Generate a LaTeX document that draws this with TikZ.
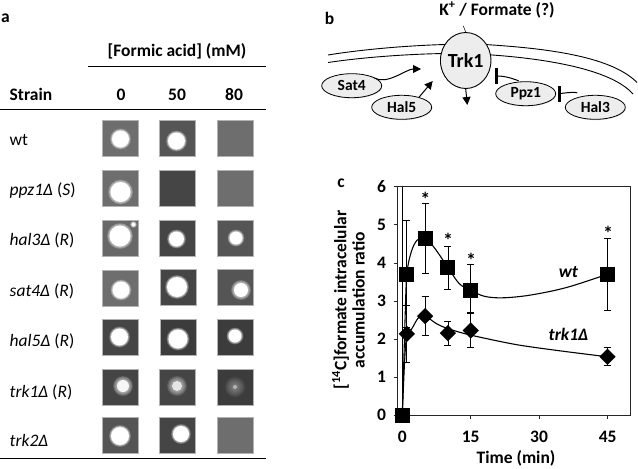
\documentclass[tikz,border=0pt]{standalone}
\usepackage{fontspec}
\setmainfont{Carlito}
\usetikzlibrary{arrows.meta,shadows,shapes.geometric}
\definecolor{gA}{HTML}{6E6E6E}
\definecolor{gB}{HTML}{555555}
\definecolor{gC}{HTML}{454545}
\definecolor{gD}{HTML}{3C3C3C}
\definecolor{gE}{HTML}{686868}
\tikzset{
  spot/.style={minimum size=36pt,inner sep=0pt,draw=black!30,line width=.5pt,anchor=center},
  lab/.style={font=\fontsize{17.5}{17.5}\selectfont,inner sep=0pt},
  blab/.style={font=\fontsize{17.5}{17.5}\selectfont\bfseries,inner sep=0pt},
  rowlab/.style={font=\fontsize{17.5}{17.5}\selectfont,inner sep=0pt,anchor=west},
  prot/.style={ellipse,draw=black,line width=.8pt,fill=black!7,minimum width=60pt,minimum height=24pt,inner sep=0pt,font=\fontsize{15.5}{15.5}\selectfont\bfseries,drop shadow={shadow xshift=.6pt,shadow yshift=-.8pt,opacity=.3}},
  memb/.style={line width=.9pt,black},
  act/.style={line width=1pt,-{Triangle[length=8pt,width=8pt]}},
  inh/.style={line width=1pt,-{Rectangle[length=2.6pt,width=16pt]}},
  wtm/.style={fill=black,minimum size=15pt,inner sep=0pt},
  trm/.style={fill=black,minimum size=11.5pt,inner sep=0pt,rotate=45},
  ebar/.style={line width=.8pt,{Bar[width=7pt,line width=.8pt]}-{Bar[width=7pt,line width=.8pt]}},
  curve/.style={line width=1.1pt},
  star/.style={font=\fontsize{20}{20}\selectfont\bfseries,inner sep=0pt},
  frm/.style={line width=.7pt,black!85},
}
% \blob{x}{y}{inner r}{soft width}{soft opacity}: solid core with a soft rim
\newcommand{\blob}[5]{%
  \foreach \k in {1,...,5}{\fill[white,opacity=#5*.16] (#1,#2) circle ({#3pt+#4pt*(6-\k)/5});}
  \fill[white,opacity=#5] (#1,#2) circle (#3pt);
}
\begin{document}
\begin{tikzpicture}[x=1pt,y=-1pt]
\useasboundingbox (0,0) rectangle (638,469);
% ---- panel a
\node[blab] (la) at (5.5,18) {a};
\node[blab] (hd) at (177,51) {[Formic acid] (mM)};
\coordinate (r1a) at (88,66.5); \coordinate (r1b) at (266,66.5);
\draw[line width=1.4pt] (r1a) -- (r1b);
\node[blab,anchor=west] (st) at (9.5,94.5) {Strain};
\node[blab] (c0) at (121,94.5) {0};
\node[blab] (c50) at (177,94.5) {50};
\node[blab] (c80) at (234,94.5) {80};
\coordinate (r2a) at (0,109.5); \coordinate (r2b) at (266,109.5);
\draw[line width=1.4pt] (r2a) -- (r2b);
\coordinate (r3a) at (0,458.5); \coordinate (r3b) at (266,458.5);
\draw[line width=1.4pt] (r3a) -- (r3b);
\node[rowlab] (s1) at (9.5,140) {wt};
\node[rowlab] (s2) at (9.5,191) {\textit{ppz1Δ} (\textit{S})};
\node[rowlab] (s3) at (9.5,240) {\textit{hal3Δ} (\textit{R})};
\node[rowlab] (s4) at (9.5,291) {\textit{sat4Δ} (\textit{R})};
\node[rowlab] (s5) at (9.5,341) {\textit{hal5Δ} (\textit{R})};
\node[rowlab] (s6) at (9.5,392) {\textit{trk1Δ} (\textit{R})};
\node[rowlab] (s7) at (9.5,440) {\textit{trk2Δ}};
% spots
\node[spot,fill=gA] (a11) at (120,138) {};
\node[spot,fill=gB] (a12) at (177,138) {};
\node[spot,fill=gA] (a13) at (235,138) {};
\node[spot,fill=gA] (a21) at (120,188.5) {};
\node[spot,fill=gC] (a22) at (177,188.5) {};
\node[spot,fill=gA] (a23) at (235,188.5) {};
\node[spot,fill=gE] (a31) at (120,238) {};
\node[spot,fill=gC] (a32) at (177,238) {};
\node[spot,fill=gB] (a33) at (235,238) {};
\node[spot,fill=gA] (a41) at (120,288.5) {};
\node[spot,fill=gC] (a42) at (178,287.5) {};
\node[spot,fill=gB] (a43) at (235.5,287.5) {};
\node[spot,fill=gC] (a51) at (120,337.5) {};
\node[spot,fill=gD] (a52) at (178,337.5) {};
\node[spot,fill=gD] (a53) at (235,337) {};
\node[spot,fill=gC] (a61) at (120.5,387) {};
\node[spot,fill=gC] (a62) at (177,387) {};
\node[spot,fill=gD] (a63) at (235,387) {};
\node[spot,fill=gB] (a71) at (120,435) {};
\node[spot,fill=gC] (a72) at (177,435) {};
\node[spot,fill=gA] (a73) at (235,435) {};
% blobs
\blob{120.5}{139}{8.5}{2}{1}
\blob{176.5}{141}{8.5}{2}{1}
\blob{120.5}{192}{10}{2.5}{1}
\blob{120}{236}{10.5}{2.5}{1}
\blob{133.5}{224.5}{2}{1.5}{1}
\blob{176.5}{239}{7.5}{2}{1}
\blob{236}{238}{6.5}{2}{1}
\blob{121}{290}{8.5}{2}{1}
\blob{177}{287}{10}{2}{1}
\blob{241}{290}{7}{3}{1}
\blob{119.5}{337}{8.5}{2}{1}
\blob{178}{339}{9.5}{2}{1}
\blob{235}{336}{6.5}{2}{1}
\blob{123}{386}{6}{4}{.9}
\blob{177}{386}{5}{5}{.75}
\blob{235}{387}{2}{8}{.45}
\blob{120}{436}{9}{2}{1}
\blob{181}{434}{8}{2}{1}
% ---- panel b
\node[blab] (lb) at (329.5,18) {b};
\node[blab] (kf) at (497,10) {K\textsuperscript{+} / Formate (?)};
\draw[memb] (328,55) .. controls (365,49) and (410,45.5) .. (445,44.5);
\draw[memb] (328,62.5) .. controls (365,57) and (410,54) .. (445,53.5);
\draw[memb] (485,44.5) .. controls (540,48) and (610,55) .. (637,82.5);
\draw[memb] (485,54.5) .. controls (540,58) and (610,68) .. (633,94);
\coordinate (tt) at (463.3,26);
\node[ellipse,draw=black,line width=.9pt,fill=black!7,minimum width=47pt,minimum height=56pt,inner sep=0pt,font=\fontsize{20}{20}\selectfont\bfseries] (trk) at (465.7,60.5) {Trk1};
\draw[line width=.5pt] (tt) -- (trk.north);
\coordinate (dn) at (467.3,105);
\draw[act] (trk.south) -- (dn);
\node[prot] (sat) at (351.7,85.7) {Sat4};
\node[prot] (hal5) at (401.7,107.3) {Hal5};
\node[prot] (ppz) at (525.7,93.7) {Ppz1};
\node[prot] (hal3) at (595.3,107.3) {Hal3};
\coordinate (satE) at (421,69);
\coordinate (halE) at (432.7,81);
\coordinate (ppzE) at (495,76);
\coordinate (hal3E) at (558,93.5);
\draw[act] (sat.north east) ++(1,1) to[out=-30,in=180,looseness=.8] (satE);
\draw[act] (hal5.north east) ++(-4,-1.5) -- (halE);
\draw[inh] (ppz.north) ++(-7,-.5) to[out=160,in=0] (ppzE);
\draw[inh] (hal3.north) ++(-18,-2) to[out=160,in=0,looseness=.6] (hal3E);
% ---- panel c
\node[blab] (lc) at (341,183) {c};
\draw[frm] (397.3,186.7) rectangle (630,415);
\foreach \v/\yy in {0/415,1/377,2/339,3/301,4/263,5/224.7,6/186.7}{
  \draw[frm] (394,\yy) -- (397.3,\yy);
  \node[blab] (yl\v) at (381.5,\yy) {\v};
}
\foreach \v/\xx in {0/402.3,15/470.7,30/539,45/607.7}{
  \draw[frm] (\xx,415) -- (\xx,419);
  \node[blab] (xl\v) at (\xx,436.5) {\v};
}
\node[blab] (xt) at (516,458) {Time (min)};
\node[blab,rotate=90] (yt1) at (340.5,300) {[\textsuperscript{14}C]formate intracelular};
\node[blab,rotate=90] (yt2) at (358.5,300) {accumulation ratio};
\begin{scope}[shift={(402.3,415)},x=4.56pt,y=38.05pt]
  \foreach \t/\lo/\hi in {1/2.3/5.13,5/3.72/5.58,10/3.3/4.45,15/2.65/3.98,45/2.75/4.65}{
    \draw[ebar] (\t,\lo) -- (\t,\hi);
  }
  \foreach \t/\lo/\hi in {1/1.38/2.88,5/2.08/3.13,10/1.83/2.48,15/1.77/2.7,45/1.3/1.78}{
    \draw[ebar] (\t,\lo) -- (\t,\hi);
  }
  \draw[line width=.8pt] (0,0) -- (0,6);
  \draw[curve] plot[smooth,tension=.55] coordinates {(0,0) (.6,2.5) (1,3.7) (2,4.3) (3.3,4.6) (5,4.65) (7,4.4) (10,3.88) (12.5,3.45) (15,3.28) (18,3.12) (22,3.08) (28,3.15) (36,3.35) (45,3.7)};
  \draw[curve] plot[smooth,tension=.5] coordinates {(0,0) (.5,1.4) (1,2.13) (2,2.25) (3.5,2.55) (5,2.6) (7.5,2.4) (10,2.27) (15,2.1) (25,1.85) (35,1.68) (45,1.53)};
  \node[wtm] (w0) at (0,0) {};
  \node[wtm] (w1) at (1,3.7) {};
  \node[wtm] (w2) at (5,4.65) {};
  \node[wtm] (w3) at (10,3.88) {};
  \node[wtm] (w4) at (15,3.28) {};
  \node[wtm] (w5) at (45,3.7) {};
  \node[trm] (t1) at (1,2.13) {};
  \node[trm] (t2) at (5,2.6) {};
  \node[trm] (t3) at (10,2.15) {};
  \node[trm] (t4) at (15,2.22) {};
  \node[trm] (t5) at (45,1.53) {};
\end{scope}
\node[star] (a1) at (425.3,199) {*};
\node[star] (a2) at (448,240.5) {*};
\node[star] (a3) at (471,260) {*};
\node[star] (a4) at (608,233) {*};
\node[blab,font=\fontsize{17.5}{17.5}\selectfont\bfseries\itshape] (lw) at (568.5,272) {wt};
\node[blab,font=\fontsize{17.5}{17.5}\selectfont\bfseries\itshape] (lt) at (568.5,334) {trk1Δ};
\end{tikzpicture}
\end{document}
